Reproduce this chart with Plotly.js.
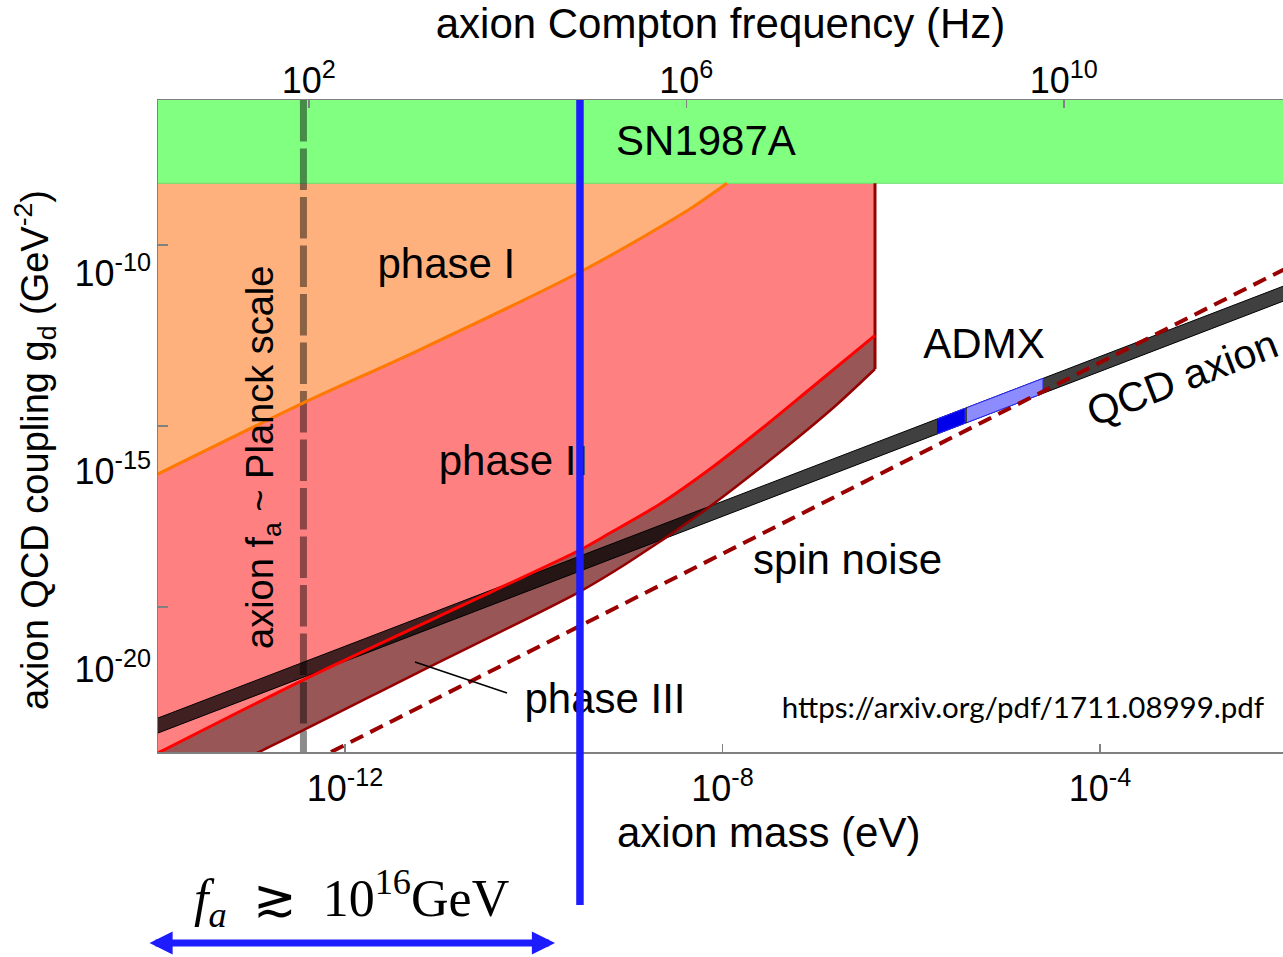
<!DOCTYPE html>
<html>
<head>
<meta charset="utf-8">
<script src="https://cdn.plot.ly/plotly-3.0.1.min.js"></script>
<style>html,body{margin:0;padding:0;background:#fff;}#chart{width:1283px;height:957px;}</style>
</head>
<body>
<div id="chart"></div>
<script>
// ---- data (all values are log10 of axion mass [eV] and of coupling g_d [GeV^-2]) ----
const massRange = [-13.981, -2.061];
const couplingRange = [-24, -6];
const couplingLabelRange = [-22.07, -5.64];
const eVtoHzLog = Math.log10(2.418e14);

const massTickVals = [-12, -8, -4];
const massTickText = ['10<sup>-12</sup>', '10<sup>-8</sup>', '10<sup>-4</sup>'];
const freqTickVals = [2, 6, 10];
const freqTickText = ['10<sup>2</sup>', '10<sup>6</sup>', '10<sup>10</sup>'];
const couplingTickVals = [-10, -15, -20];
const couplingTickText = ['10<sup>-10</sup>', '10<sup>-15</sup>', '10<sup>-20</sup>'];

const snMass = [-14.1, -2.0, -2.0, -14.1];
const snG = [-8.3, -8.3, -5.5, -5.5];

const phaseTopG = -8.3;
const phaseEdgeMass = -6.384;
const leftMass = -14.1;

const orangeMass = [-14.1, -12.445, -11.237, -9.510, -8.842, -8.313, -7.952];
const orangeG    = [-16.478, -14.366, -12.930, -10.749, -9.782, -8.954, -8.30];

const redMass = [-14.1, -12.445, -10.887, -9.510, -9.192, -8.662, -8.132, -7.603, -7.073, -6.384];
const redG    = [-24.185, -22.013, -20.108, -18.424, -17.955, -17.154, -16.188, -15.111, -13.979, -12.50];

const p3Mass = [-14.1, -12.869, -11.237, -9.510, -9.012, -8.238, -7.603, -6.829, -6.384];
const p3G    = [-25.395, -23.946, -21.820, -19.570, -18.791, -17.422, -16.160, -14.503, -13.427];

const qcdMass  = [-14.1, -2.0];
const qcdUpper = [-23.181, -11.081];
const qcdLower = [-23.595, -11.495];

const admxDarkMass  = [-5.727, -5.430];
const admxDarkUpper = [-14.808, -14.511];
const admxDarkLower = [-15.222, -14.925];
const admxLightMass  = [-5.409, -4.604];
const admxLightUpper = [-14.490, -13.685];
const admxLightLower = [-14.904, -14.099];

const spinMass = [-12.148, -2.0];
const spinG    = [-24.0, -10.61];

const planckMass = -12.44;
const planckG = [-6, -24];

const faBoundMass = -9.51;

const pointerMass = [-11.258, -10.283];
const pointerG    = [-21.516, -22.372];

const labelText = ['SN1987A', 'phase I', 'phase II', 'phase III', 'spin noise', 'ADMX'];
const labelMass = [-8.175, -10.925, -10.215, -9.245, -6.676, -5.229];
const labelG    = [-7.22, -10.63, -16.07, -22.64, -18.80, -12.83];

const urlText = 'https://arxiv.org/pdf/1711.08999.pdf';
const urlMass = -4.816, urlG = -22.85;

// ---- helpers ----
const P = v => Math.pow(10, v);
const PA = a => a.map(P);
const FONT = 'Liberation Sans, Arial, Helvetica, sans-serif';

const base = {mode: 'lines', hoverinfo: 'skip', showlegend: false, xaxis: 'x', yaxis: 'y'};
const L = o => Object.assign({}, base, o);
const topEdge = m1 => L({x: PA([leftMass, m1]), y: PA([phaseTopG, phaseTopG]), line: {width: 0}});

const traces = [
  // phase III fill (between top edge and its lower boundary)
  topEdge(phaseEdgeMass),
  L({x: PA(p3Mass), y: PA(p3G), fill: 'tonexty', fillcolor: 'rgb(153,86,86)', line: {width: 0, shape: 'spline', smoothing: 0.8}}),
  // phase II fill
  topEdge(phaseEdgeMass),
  L({x: PA(redMass), y: PA(redG), fill: 'tonexty', fillcolor: 'rgb(255,128,128)', line: {width: 0, shape: 'spline', smoothing: 0.8}}),
  // phase I fill
  topEdge(orangeMass[orangeMass.length - 1]),
  L({x: PA(orangeMass), y: PA(orangeG), fill: 'tonexty', fillcolor: 'rgb(254,177,125)', line: {width: 0, shape: 'spline', smoothing: 0.8}}),
  // SN1987A band
  L({x: PA(snMass), y: PA(snG), fill: 'toself', fillcolor: 'rgb(128,255,128)', line: {width: 1, color: 'rgb(110,225,110)'}}),
  // Planck scale (dashed grey)
  L({x: PA([planckMass, planckMass]), y: PA(planckG), line: {color: 'rgba(0,0,0,0.45)', width: 7, dash: '41.5px,7px'}}),
  // QCD axion band
  L({
    x: PA([qcdMass[0], qcdMass[1], qcdMass[1], qcdMass[0]]),
    y: PA([qcdUpper[0], qcdUpper[1], qcdLower[1], qcdLower[0]]),
    fill: 'toself', fillcolor: 'rgba(0,0,0,0.75)', line: {width: 1, color: 'black'}
  }),
  // ADMX
  L({
    x: PA([admxDarkMass[0], admxDarkMass[1], admxDarkMass[1], admxDarkMass[0]]),
    y: PA([admxDarkUpper[0], admxDarkUpper[1], admxDarkLower[1], admxDarkLower[0]]),
    fill: 'toself', fillcolor: 'rgb(0,0,235)', line: {width: 1, color: 'rgb(40,40,255)'}
  }),
  L({
    x: PA([admxLightMass[0], admxLightMass[1], admxLightMass[1], admxLightMass[0]]),
    y: PA([admxLightUpper[0], admxLightUpper[1], admxLightLower[1], admxLightLower[0]]),
    fill: 'toself', fillcolor: 'rgb(140,140,255)', line: {width: 1, color: 'rgb(40,40,255)'}
  }),
  // phase III outline (dark red): lower boundary and right edge
  L({x: PA(p3Mass), y: PA(p3G), line: {color: 'rgb(150,0,0)', width: 2.5, shape: 'spline', smoothing: 0.8}}),
  L({x: PA([phaseEdgeMass, phaseEdgeMass]), y: PA([phaseTopG, p3G[p3G.length - 1]]), line: {color: 'rgb(150,0,0)', width: 3}}),
  // phase II boundary (red)
  L({x: PA(redMass), y: PA(redG), line: {color: 'rgb(255,0,0)', width: 3, shape: 'spline', smoothing: 0.8}}),
  // phase I boundary (orange)
  L({x: PA(orangeMass), y: PA(orangeG), line: {color: 'rgb(255,120,0)', width: 3, shape: 'spline', smoothing: 0.8}}),
  // spin noise (dashed)
  L({x: PA(spinMass), y: PA(spinG), line: {color: 'rgb(155,0,0)', width: 4, dash: '14px,8px'}}),
  // pointer to phase III
  L({x: PA(pointerMass), y: PA(pointerG), line: {color: 'black', width: 1.5}}),
  // region labels
  L({
    mode: 'text', x: PA(labelMass), y: PA(labelG), text: labelText,
    textposition: 'middle center', textfont: {family: FONT, size: 42, color: 'black'}, cliponaxis: false
  }),
  L({
    mode: 'text', x: [P(urlMass)], y: [P(urlG)], text: [urlText],
    textposition: 'middle center', textfont: {family: 'Lato, Open Sans, sans-serif', size: 29.5, color: 'black'}, cliponaxis: false
  }),
  // anchors for the frequency axis and the label axis
  {x: [P(6)], y: [P(-10)], xaxis: 'x2', yaxis: 'y', mode: 'markers', marker: {opacity: 0}, hoverinfo: 'skip', showlegend: false},
  {x: [P(-8)], y: [P(-10)], xaxis: 'x', yaxis: 'y2', mode: 'markers', marker: {opacity: 0}, hoverinfo: 'skip', showlegend: false}
];

const axisCommon = {
  showgrid: false, zeroline: false, fixedrange: true,
  tickcolor: '#808080', tickwidth: 1.5, linecolor: '#808080', linewidth: 1.5,
  tickfont: {family: FONT, size: 36, color: 'black'}
};

const layout = {
  width: 1283, height: 957,
  margin: {l: 158, r: 0, t: 100, b: 205, pad: 0},
  paper_bgcolor: 'white', plot_bgcolor: 'white', showlegend: false,
  font: {family: FONT, color: 'black'},
  xaxis: Object.assign({}, axisCommon, {
    type: 'log', range: massRange,
    tickvals: PA(massTickVals), ticktext: massTickText,
    ticks: 'inside', ticklen: 8, showline: true, ticklabelstandoff: 4
  }),
  xaxis2: Object.assign({}, axisCommon, {
    type: 'log', overlaying: 'x', side: 'top', anchor: 'y',
    range: [massRange[0] + eVtoHzLog, massRange[1] + eVtoHzLog],
    tickvals: PA(freqTickVals), ticktext: freqTickText,
    ticks: 'inside', ticklen: 8, showline: true, ticklabelstandoff: -9,
    title: {text: 'axion Compton frequency (Hz)', font: {family: FONT, size: 42, color: 'black'}, standoff: 8}
  }),
  yaxis: Object.assign({}, axisCommon, {
    type: 'log', range: couplingRange,
    tickvals: PA(couplingTickVals), showticklabels: false,
    ticks: 'inside', ticklen: 10, showline: true
  }),
  yaxis2: Object.assign({}, axisCommon, {
    type: 'log', overlaying: 'y', side: 'left', anchor: 'x',
    range: couplingLabelRange,
    tickvals: PA(couplingTickVals), ticktext: couplingTickText,
    ticks: '', showline: false, ticklabelstandoff: 6
  }),
  shapes: [
    {type: 'line', xref: 'x', yref: 'paper', x0: P(faBoundMass), x1: P(faBoundMass), y0: 1, y1: -0.2347,
     line: {color: 'rgb(28,28,255)', width: 7.5}, layer: 'above'}
  ],
  annotations: [
    {xref: 'x', yref: 'y', x: -3.131, y: -13.675, text: 'QCD axion', showarrow: false, textangle: -21,
     font: {family: FONT, size: 41, color: 'black'}, xanchor: 'center', yanchor: 'middle'},
    {xref: 'x', yref: 'y', x: -12.869, y: -15.856, text: 'axion f<sub>a</sub> ~ Planck scale', showarrow: false, textangle: -90,
     font: {family: FONT, size: 38, color: 'black'}, xanchor: 'center', yanchor: 'middle'},
    {xref: 'paper', yref: 'paper', x: -0.1093, y: 0.4632, text: 'axion QCD coupling g<sub>d</sub> (GeV<sup>-2</sup>)', showarrow: false, textangle: -90,
     font: {family: FONT, size: 38, color: 'black'}, xanchor: 'center', yanchor: 'middle'},
    {xref: 'paper', yref: 'paper', x: 0.5431, y: -0.1227, text: 'axion mass (eV)', showarrow: false, borderpad: 0,
     font: {family: FONT, size: 42, color: 'black'}, xanchor: 'center', yanchor: 'middle'},
    {xref: 'paper', yref: 'paper', x: 0.1716, y: -0.224, text: '<i>f</i><sub><i>a</i></sub>\u00A0\u00A0\u2273\u00A0\u00A010<sup>16</sup>GeV', showarrow: false,
     font: {family: 'Liberation Serif, Times New Roman, serif', size: 52, color: 'black'}, xanchor: 'center', yanchor: 'middle'},
    {xref: 'paper', yref: 'paper', x: 0.35289, y: -0.29294, ax: -407, ay: 0, axref: 'pixel', ayref: 'pixel', text: '',
     showarrow: true, arrowside: 'end+start', arrowhead: 2, startarrowhead: 2, arrowsize: 0.66, startarrowsize: 0.66,
     arrowwidth: 7, arrowcolor: 'rgb(28,28,255)', standoff: 0, startstandoff: 0}
  ]
};

Plotly.newPlot('chart', traces, layout, {displayModeBar: false, staticPlot: true});
</script>
</body>
</html>
